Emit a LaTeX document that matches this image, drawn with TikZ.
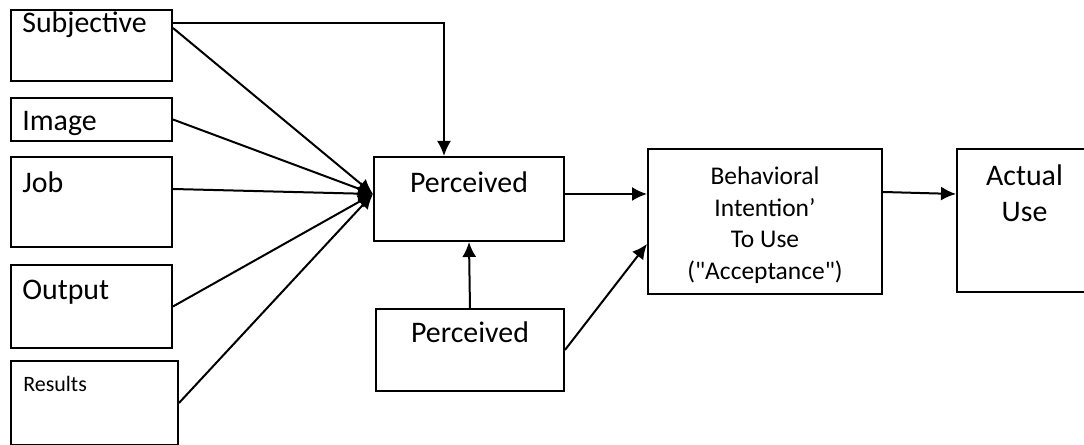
\documentclass[tikz,border=0pt]{standalone}
\usepackage{fontspec}
\setmainfont{Carlito}
\usetikzlibrary{arrows.meta}

\begin{document}
\begin{tikzpicture}[x=0.02cm, y=-0.02cm]

	%DEFINICIONES
	\tikzstyle{every node}=[font=\fontsize{17}{20.5}\selectfont]
	\tikzstyle{caja} = [draw, line width=0.04cm, anchor=north west, minimum width=3.22cm, inner sep=0pt]
	\tikzstyle{texto} = [anchor=base west, inner sep=0pt]
	\tikzstyle{centrado} = [anchor=base, align=center, inner sep=0pt]
	\tikzstyle{flecha} = [-{Latex[length=0.3cm, width=0.28cm]}, line width=0.04cm]

	\useasboundingbox (0,0) rectangle (1084,445);

	%BLOQUES
	\draw(10,9) node[caja, minimum height=1.42cm, label={[texto, xshift=0.24cm, yshift=-0.48cm]north west:Subjective}](subj){};
	\draw(10,97) node[caja, minimum height=0.86cm, label={[texto, xshift=0.24cm, yshift=-0.68cm]north west:Image}](image){};
	\draw(10,156) node[caja, minimum height=1.8cm, label={[texto, xshift=0.24cm, yshift=-0.74cm]north west:Job}](job){};
	\draw(10,264) node[caja, minimum height=1.66cm, label={[texto, xshift=0.24cm, yshift=-0.72cm]north west:Output}](output){};
	\draw(10,360) node[caja, minimum width=3.34cm, minimum height=1.68cm, label={[texto, font=\fontsize{12.5}{15}\selectfont, xshift=0.26cm, yshift=-0.64cm]north west:Results}](results){};

	\draw(373,156) node[caja, minimum width=3.8cm, minimum height=1.68cm, label={[centrado, yshift=-0.74cm]north:Perceived}](perc1){};
	\draw(375,308) node[caja, minimum width=3.76cm, minimum height=1.64cm, label={[centrado, yshift=-0.7cm]north:Perceived}](perc2){};

	\draw(647,148) node[caja, minimum width=4.68cm, minimum height=2.9cm, label={[centrado, font=\fontsize{14.5}{18.2}\selectfont, yshift=-2.64cm]north:Behavioral\\Intention’\\To Use\\(\textquotedbl Acceptance\textquotedbl)}](beh){};
	\draw(956,148) node[caja, minimum width=2.8cm, minimum height=2.86cm, label={[centrado, xshift=1.37cm, yshift=-1.48cm]north west:Actual\\Use}](actual){};

	%FLECHAS
	\coordinate (hub) at ([yshift=0.1cm]perc1.west);
	\coordinate (p1out) at ([yshift=0.1cm]perc1.east);
	\draw [flecha] ([yshift=-0.38cm]subj.north east) -- (hub);
	\draw [flecha] (image.east) -- (hub);
	\draw [flecha] ([yshift=0.26cm]job.east) -- (hub);
	\draw [flecha] (output.east) -- (hub);
	\draw [flecha] (results.east) -- (hub);
	\draw [flecha] ([yshift=-0.28cm]subj.north east) -| ([xshift=-0.5cm]perc1.north);

	\draw [flecha] (perc2.north) -- (perc1.south);
	\draw [flecha] (p1out) -- (p1out -| beh.west);
	\draw [flecha] (perc2.east) -- ([yshift=-0.45cm]beh.west);
	\draw [flecha] ([yshift=0.59cm]beh.east) -- ([yshift=0.53cm]actual.west);
\end{tikzpicture}
\end{document}
